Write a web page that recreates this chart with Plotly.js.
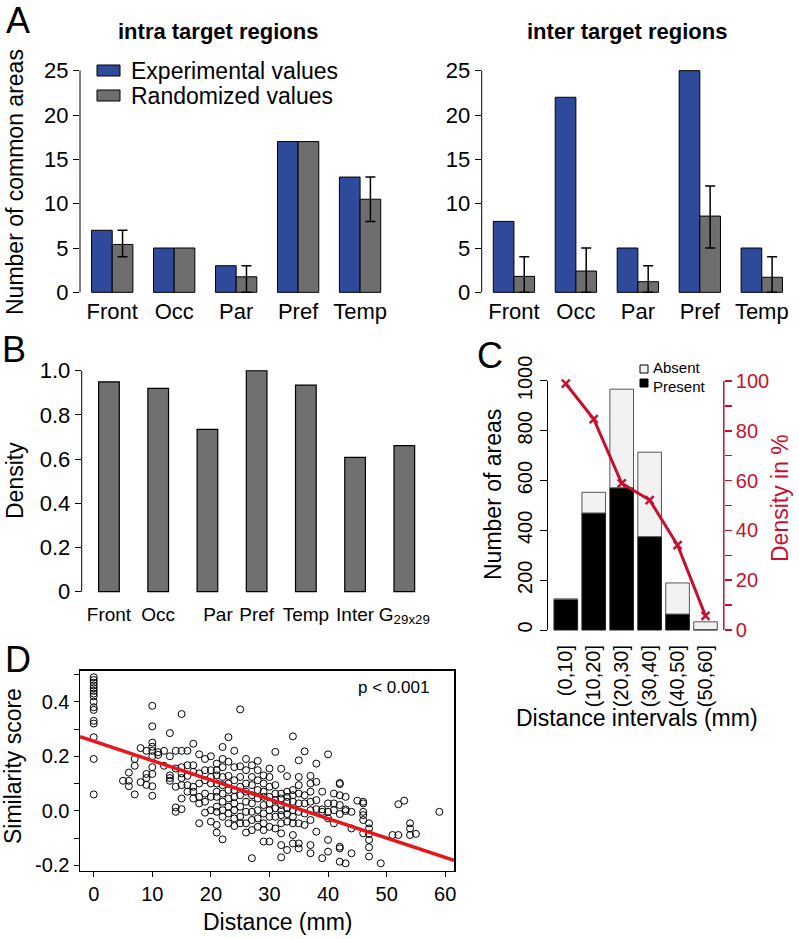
<!DOCTYPE html>
<html>
<head>
<meta charset="utf-8">
<script src="https://cdn.plot.ly/plotly-3.0.1.min.js"></script>
<style>html,body{margin:0;padding:0;background:#fff}#fig{width:799px;height:939px}</style>
</head>
<body>
<div id="fig"></div>
<script>
// A: number of common areas per target region
const regions = ['Front', 'Occ', 'Par', 'Pref', 'Temp'];
const intraExp = [7, 5, 3, 17, 13];
const intraRand = [5.4, 5, 1.75, 17, 10.5];
const intraRandHi = [7, null, 3, null, 13];
const intraRandLo = [4, null, 0, null, 8];
const interExp = [8, 22, 5, 25, 5];
const interRand = [1.8, 2.4, 1.2, 8.6, 1.7];
const interRandHi = [4, 5, 3, 12, 4];
const interRandLo = [0, 0, 0, 5, 0];

// B: density per region
const bCats = ['Front', 'Occ', 'Par', 'Pref', 'Temp', 'Inter', 'G29x29'];
const bLabels = ['Front', 'Occ', '\u00a0\u00a0\u00a0\u00a0Par', 'Pref', 'Temp', 'Inter', 'G<sub>29x29</sub>'];
const bDensity = [0.95, 0.92, 0.735, 1.0, 0.935, 0.608, 0.661];

// C: areas by distance interval
const cBins = ['(0,10]', '(10,20]', '(20,30]', '(30,40]', '(40,50]', '(50,60]'];
const cPresent = [123, 470, 571, 375, 64, 2];
const cTotal = [125, 553, 967, 714, 189, 33];
const cDensity = [98.9, 84.7, 58.9, 52.2, 34.1, 5.7];

// D: similarity score vs distance, [distance, scores at that distance]
const dColumns = [
  [0, [0.49, 0.48, 0.47, 0.46, 0.45, 0.44, 0.43, 0.42, 0.40, 0.38, 0.37, 0.33, 0.32, 0.27, 0.19, 0.06]],
  [5, [0.11]],
  [6, [0.14, 0.11, 0.09]],
  [7, [0.19, 0.165, 0.06]],
  [8, [0.23, 0.105]],
  [9, [0.22, 0.135, 0.12, 0.095]],
  [10, [0.385, 0.31, 0.25, 0.235, 0.22, 0.2, 0.16, 0.135, 0.09, 0.055]],
  [11, [0.215, 0.205]],
  [12, [0.22, 0.165]],
  [13, [0.285, 0.2, 0.13, 0.12, 0.11]],
  [14, [0.22, 0.155, 0.088, 0.012, -0.004]],
  [15, [0.355, 0.22, 0.16, 0.137, 0.12, 0.094, 0.045, 0.006]],
  [16, [0.22, 0.167, 0.128, 0.094, 0.07]],
  [17, [0.246, 0.167, 0.143, 0.088, 0.07, 0.045]],
  [18, [0.207, 0.137, 0.1, 0.051, 0.027, -0.046]],
  [19, [0.19, 0.149, 0.112, 0.063, 0.033, -0.007]],
  [20, [0.2, 0.149, 0.124, 0.1, 0.051, 0.002, -0.04]],
  [21, [0.173, 0.149, 0.13, 0.1, 0.07, 0.051, 0.015, -0.004, -0.052, -0.08]],
  [22, [0.234, 0.19, 0.16, 0.124, 0.094, 0.063, 0.033, 0.002, -0.022, -0.105]],
  [23, [0.27, 0.18, 0.128, 0.1, 0.076, 0.045, 0.015, -0.01, -0.046]],
  [24, [0.22, 0.16, 0.112, 0.076, 0.051, 0.027, 0.002, -0.028, -0.056]],
  [25, [0.372, 0.163, 0.124, 0.088, 0.057, 0.015, -0.022, -0.046]],
  [26, [0.19, 0.149, 0.1, 0.07, 0.033, -0.004, -0.046, -0.08]],
  [27, [0.167, 0.124, 0.094, 0.057, 0.027, -0.004, -0.034, -0.071, -0.174]],
  [28, [0.183, 0.149, 0.112, 0.076, 0.045, 0.002, -0.028, -0.059]],
  [29, [0.13, 0.1, 0.07, 0.051, 0.021, -0.01, -0.046, -0.071, -0.113]],
  [30, [0.155, 0.124, 0.088, 0.051, 0.027, 0.002, -0.022, -0.059, -0.113]],
  [31, [0.216, 0.094, 0.063, 0.039, 0.009, -0.022, -0.065]],
  [32, [0.154, 0.063, 0.045, 0.021, 0.002, -0.016, -0.046, -0.083, -0.126, -0.171]],
  [33, [0.127, 0.07, 0.051, 0.033, 0.009, -0.012, -0.04, -0.144]],
  [34, [0.273, 0.076, 0.057, 0.033, 0.002, -0.022, -0.046, -0.089, -0.12]],
  [35, [0.185, 0.124, 0.094, 0.063, 0.027, -0.004, -0.046, -0.12, -0.138]],
  [36, [0.218, 0.057, 0.027, -0.01, -0.052]],
  [37, [0.128, 0.1, 0.07, 0.033, 0.002, -0.034, -0.126, -0.156]],
  [38, [0.173, 0.106, 0.039, 0.006, -0.077]],
  [39, [0.07, 0.005, -0.004, -0.174]],
  [40, [0.207, 0.027, -0.004, -0.028, -0.107, -0.15]],
  [41, [0.063, 0.027, 0.002, -0.046]],
  [42, [0.102, 0.098, 0.057, 0.021, -0.012, -0.132, -0.138, -0.187]],
  [43, [0.051, 0.005, -0.001, -0.193]],
  [44, [-0.004, -0.065, -0.156]],
  [45, [0.037]],
  [46, [0.033, 0.027, -0.004, -0.016, -0.034, -0.083]],
  [47, [-0.046, -0.065, -0.085, -0.107, -0.134, -0.168]],
  [49, [-0.193]],
  [51, [-0.089]],
  [52, [0.024, -0.089]],
  [53, [0.037]],
  [54, [-0.046, -0.065, -0.089]],
  [55, [-0.085]],
  [59, [-0.004]]
];
const fitIntercept = 0.255;
const fitSlope = -0.0071;

const W = 799, H = 939;
const px = x => x / W;
const py = y => 1 - y / H;
const FONT = 'Liberation Sans, Arial, Helvetica, sans-serif';
const BLUE = '#2f4a9b';
const GREY = '#6e6e6e';
const RED = '#c8102e';

const groupX = (i, k) => 3 * i + 1.5 + k;
const errUp = (v, hi) => v.map((y, i) => hi[i] == null ? NaN : hi[i] - y);
const errDown = (v, lo) => v.map((y, i) => lo[i] == null ? NaN : y - lo[i]);

function barPair(exp, rand, hi, lo, xa, ya) {
    return [{
        type: 'bar', x: exp.map((_, i) => groupX(i, 0)), y: exp, width: 1,
        marker: {color: BLUE, line: {color: '#000', width: 1}},
        xaxis: xa, yaxis: ya, hoverinfo: 'skip'
    }, {
        type: 'bar', x: rand.map((_, i) => groupX(i, 1)), y: rand, width: 1,
        marker: {color: GREY, line: {color: '#000', width: 1}},
        error_y: {type: 'data', symmetric: false, array: errUp(rand, hi), arrayminus: errDown(rand, lo),
                  color: '#000', thickness: 1.5, width: 5},
        xaxis: xa, yaxis: ya, hoverinfo: 'skip'
    }];
}

const dX = [], dY = [];
dColumns.forEach(([d, scores]) => scores.forEach(s => { dX.push(d); dY.push(s); }));
const dRangeX = [-2.34, 61.5];

const data = [
    ...barPair(intraExp, intraRand, intraRandHi, intraRandLo, 'x', 'y'),
    ...barPair(interExp, interRand, interRandHi, interRandLo, 'x2', 'y2'),
    {
        type: 'bar', x: bCats, y: bDensity, width: 0.42,
        marker: {color: '#707070', line: {color: '#000', width: 1.2}},
        xaxis: 'x3', yaxis: 'y3', hoverinfo: 'skip'
    },
    {
        type: 'bar', x: cBins, y: cPresent, width: 0.846,
        marker: {color: '#000', line: {color: '#222', width: 1}},
        xaxis: 'x4', yaxis: 'y4', hoverinfo: 'skip'
    },
    {
        type: 'bar', x: cBins, y: cTotal.map((t, i) => t - cPresent[i]), base: cPresent, width: 0.846,
        marker: {color: '#f2f2f2', line: {color: '#555', width: 1}},
        xaxis: 'x4', yaxis: 'y4', hoverinfo: 'skip'
    },
    {
        type: 'scatter', mode: 'lines+markers', x: cBins, y: cDensity,
        line: {color: RED, width: 3},
        marker: {symbol: 'x-thin', size: 8, line: {color: RED, width: 2.5}, color: RED},
        xaxis: 'x4', yaxis: 'y5', hoverinfo: 'skip'
    },
    {
        type: 'scatter', mode: 'markers', x: dX, y: dY,
        marker: {symbol: 'circle-open', size: 7, color: '#000', line: {width: 1}},
        xaxis: 'x5', yaxis: 'y6', hoverinfo: 'skip'
    },
    {
        type: 'scatter', mode: 'lines', x: dRangeX, y: dRangeX.map(x => fitIntercept + fitSlope * x),
        line: {color: '#e8161b', width: 3.5},
        xaxis: 'x5', yaxis: 'y6', hoverinfo: 'skip'
    }
];

const axisBase = {
    showgrid: false, zeroline: false, showline: false, fixedrange: true,
    ticks: 'outside', ticklen: 6, tickwidth: 1, tickcolor: '#000',
    tickfont: {family: FONT, size: 22, color: '#000'}
};
const groupTicks = regions.map((_, i) => 3 * i + 2);
const aY = {...axisBase, range: [-1, 26], tickvals: [0, 5, 10, 15, 20, 25], domain: [py(301.2), py(61.8)]};
const aX = {...axisBase, ticks: '', ticklen: 0, ticklabelstandoff: -5, range: [0.44, 15.56],
            tickvals: groupTicks, ticktext: regions};

const layout = {
    width: W, height: H,
    margin: {l: 0, r: 0, t: 0, b: 0},
    paper_bgcolor: '#fff', plot_bgcolor: 'rgba(0,0,0,0)',
    showlegend: false, barmode: 'overlay',
    font: {family: FONT, color: '#000'},
    xaxis: {...aX, domain: [px(80), px(392.3)], anchor: 'y'},
    yaxis: {...aY, anchor: 'x'},
    xaxis2: {...aX, domain: [px(481.7), px(794)], anchor: 'y2'},
    yaxis2: {...aY, anchor: 'x2'},
    xaxis3: {...axisBase, ticks: '', ticklen: 0, domain: [px(81.7), px(427.4)], range: [-0.554, 6.469], anchor: 'y3',
             tickvals: bCats, ticktext: bLabels, tickangle: 0,
             tickfont: {family: FONT, size: 19, color: '#000'}},
    yaxis3: {...axisBase, domain: [py(600.5), py(361.9)], range: [-0.04, 1.04], anchor: 'x3',
             tickvals: [0, 0.2, 0.4, 0.6, 0.8, 1.0], ticktext: ['0', '0.2', '0.4', '0.6', '0.8', '1.0']},
    xaxis4: {...axisBase, ticks: '', ticklen: 0, domain: [px(547.5), px(723.8)], range: [-0.655, 5.654], anchor: 'y4',
             tickangle: -90, tickfont: {family: FONT, size: 20, color: '#000'}},
    yaxis4: {...axisBase, domain: [py(640), py(371)], range: [-40, 1040], anchor: 'x4',
             tickvals: [0, 200, 400, 600, 800, 1000], tickangle: -90, ticklen: 7,
             tickfont: {family: FONT, size: 20, color: '#000'}},
    yaxis5: {...axisBase, overlaying: 'y4', side: 'right', anchor: 'x4', range: [-4, 104],
             tickvals: [0, 20, 40, 60, 80, 100], ticklen: 7, tickcolor: RED, tickwidth: 1.5,
             minor: {ticks: 'outside', tickvals: [10, 30, 50, 70, 90], ticklen: 7, tickcolor: RED, tickwidth: 1.5},
             tickfont: {family: FONT, size: 20, color: RED}},
    xaxis5: {...axisBase, domain: [px(80), px(454)], range: dRangeX, anchor: 'y6',
             showline: true, mirror: true, linecolor: '#000', linewidth: 1.5, ticklen: 5,
             tickvals: [0, 10, 20, 30, 40, 50, 60], tickfont: {family: FONT, size: 20, color: '#000'}},
    yaxis6: {...axisBase, domain: [py(870.7), py(670.7)], range: [-0.22, 0.514], anchor: 'x5',
             showline: true, mirror: true, linecolor: '#000', linewidth: 1.5, ticklen: 5,
             tickvals: [-0.2, 0, 0.2, 0.4], ticktext: ['-0.2', '0.0', '0.2', '0.4'],
             minor: {ticks: 'outside', tickvals: [-0.1, 0.1, 0.3, 0.5], ticklen: 5, tickcolor: '#000'},
             tickfont: {family: FONT, size: 20, color: '#000'}},
    shapes: [
        {type: 'line', xref: 'x domain', x0: 0, x1: 0, yref: 'y', y0: 0, y1: 25, line: {color: '#000', width: 1}},
        {type: 'line', xref: 'x2 domain', x0: 0, x1: 0, yref: 'y2', y0: 0, y1: 25, line: {color: '#000', width: 1}},
        {type: 'line', xref: 'x3 domain', x0: 0, x1: 0, yref: 'y3', y0: 0, y1: 1, line: {color: '#000', width: 1}},
        {type: 'line', xref: 'x4 domain', x0: 0, x1: 0, yref: 'y4', y0: 0, y1: 1000, line: {color: '#000', width: 1}},
        {type: 'line', xref: 'x4 domain', x0: 1, x1: 1, yref: 'y5', y0: 0, y1: 100, line: {color: RED, width: 1.5}},
        // legend A
        {type: 'rect', xref: 'paper', yref: 'paper', x0: px(97), x1: px(120), y0: py(76), y1: py(65),
         fillcolor: BLUE, line: {color: '#000', width: 1}},
        {type: 'rect', xref: 'paper', yref: 'paper', x0: px(97), x1: px(120), y0: py(101), y1: py(90),
         fillcolor: GREY, line: {color: '#000', width: 1}},
        // legend C
        {type: 'rect', xref: 'paper', yref: 'paper', x0: px(640), x1: px(648), y0: py(373), y1: py(365),
         fillcolor: '#f2f2f2', line: {color: '#000', width: 1}},
        {type: 'rect', xref: 'paper', yref: 'paper', x0: px(640), x1: px(648), y0: py(387), y1: py(379),
         fillcolor: '#000', line: {color: '#000', width: 1}}
    ],
    annotations: []
};

function note(text, x, y, opts) {
    layout.annotations.push(Object.assign({
        text: text, xref: 'paper', yref: 'paper', x: px(x), y: py(y),
        showarrow: false, xanchor: 'center', yanchor: 'middle',
        font: {family: FONT, size: 23, color: '#000'}
    }, opts || {}));
}

note('A', 18, 21, {font: {family: FONT, size: 36, color: '#000'}});
note('B', 14, 349, {font: {family: FONT, size: 36, color: '#000'}});
note('C', 490, 355, {font: {family: FONT, size: 36, color: '#000'}});
note('D', 18, 659, {font: {family: FONT, size: 36, color: '#000'}});
note('<b>intra target regions</b>', 218, 32, {font: {family: FONT, size: 22, color: '#000'}});
note('<b>inter target regions</b>', 627, 32, {font: {family: FONT, size: 22, color: '#000'}});
note('Experimental values', 129, 71, {xanchor: 'left'});
note('Randomized values', 129, 96, {xanchor: 'left'});
note('Number of common areas', 15, 182, {textangle: -90});
note('Density', 15, 481, {textangle: -90});
note('Number of areas', 493, 495, {textangle: -90});
note('Density in %', 780, 498, {textangle: -90, font: {family: FONT, size: 23, color: RED}});
note('Distance intervals (mm)', 637, 718);
note('Absent', 652, 377, {xanchor: 'left', yanchor: 'bottom', borderpad: 0,
                          font: {family: FONT, size: 15, color: '#000'}});
note('Present', 652, 377, {xanchor: 'left', yanchor: 'top', borderpad: 0,
                           font: {family: FONT, size: 15, color: '#000'}});
note('Similarity score', 13, 766, {textangle: -90});
note('Distance (mm)', 278, 922);
note('p &lt; 0.001', 393, 687, {font: {family: FONT, size: 17, color: '#000'}});

Plotly.newPlot('fig', data, layout, {displayModeBar: false, staticPlot: true});
</script>
</body>
</html>
